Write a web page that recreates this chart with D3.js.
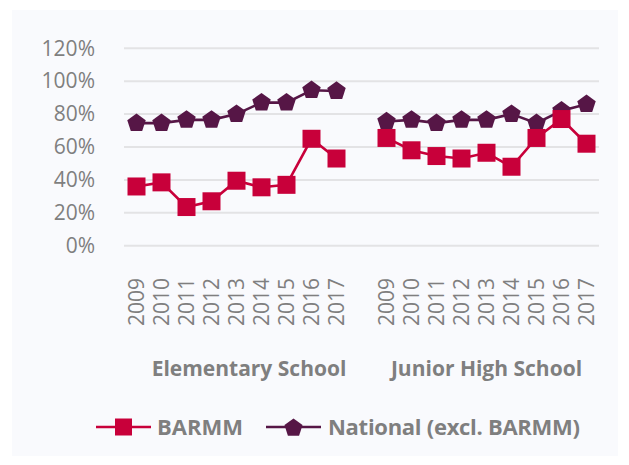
<!DOCTYPE html>
<html>
<head>
<meta charset="utf-8">
<script src="https://cdn.jsdelivr.net/npm/d3@7"></script>
<style>
  body { margin: 0; background: #ffffff; }
  text { font-family: "Open Sans", sans-serif; }
</style>
</head>
<body>
<div id="chart"></div>
<script>
// chart size
var width = 629;
var height = 465;

// data
var years = ["2009", "2010", "2011", "2012", "2013", "2014", "2015", "2016", "2017"];
var groups = ["Elementary School", "Junior High School"];
var barmmElem = [36, 38.5, 23.5, 27, 39.5, 35.5, 37, 65, 53];
var barmmJhs = [65.5, 58, 54.5, 53, 56.5, 48, 65.5, 77, 62];
var natElem = [74.5, 74.5, 76.5, 76.5, 80, 87, 87, 94.5, 94];
var natJhs = [75.5, 76.5, 74.5, 76.5, 76.5, 80, 74.5, 82, 86];
var yTicks = [0, 20, 40, 60, 80, 100, 120];

var colBarmm = "#c8003a";
var colNat = "#561646";
var grey = "#7f7f7f";

// categories: 9 years, a gap, 9 years
var cats = [];
years.forEach(function(y) { cats.push("E" + y); });
cats.push("gap");
years.forEach(function(y) { cats.push("J" + y); });

var svg = d3.select("#chart").append("svg")
  .attr("width", width)
  .attr("height", height);

svg.append("rect")
  .attr("x", 12).attr("y", 10)
  .attr("width", 606).attr("height", 446)
  .attr("fill", "#f9fafd");

var xScale = d3.scaleBand()
  .domain(cats)
  .range([124, 599]);

var yScale = d3.scaleLinear()
  .domain([0, 120])
  .range([245.7, 48.3]);

// gridlines
svg.append("g")
  .selectAll("line")
  .data(yTicks)
  .enter()
  .append("line")
  .attr("x1", 124).attr("x2", 599)
  .attr("y1", function(d) { return yScale(d); })
  .attr("y2", function(d) { return yScale(d); })
  .attr("stroke", "#e3e3e5")
  .attr("stroke-width", 2);

// y axis labels
var yAxis = d3.axisLeft(yScale)
  .tickValues(yTicks)
  .tickFormat(function(d) { return d + "%"; })
  .tickSize(0)
  .tickPadding(0);

var yg = svg.append("g")
  .attr("transform", "translate(95,0)")
  .call(yAxis);
yg.select(".domain").remove();
yg.selectAll("text")
  .attr("font-size", 21)
  .attr("fill", grey)
  .style("font-family", "'Open Sans', sans-serif");

// x axis year labels
var xAxis = d3.axisBottom(xScale)
  .tickValues(cats.filter(function(c) { return c != "gap"; }))
  .tickFormat(function(c) { return c.slice(1); })
  .tickSize(0);

var xg = svg.append("g")
  .attr("transform", "translate(0,278)")
  .call(xAxis);
xg.select(".domain").remove();
xg.selectAll("text")
  .attr("transform", "rotate(-90)")
  .attr("text-anchor", "end")
  .attr("x", 0)
  .attr("y", 0)
  .attr("dy", "0.36em")
  .attr("font-size", 21)
  .attr("fill", grey)
  .style("font-family", "'Open Sans', sans-serif");

// group labels
var groupCenters = [
  (xScale("E2009") + xScale("gap") + xScale.bandwidth()) / 2,
  (xScale("J2009") + xScale("J2017") + xScale.bandwidth()) / 2
];
svg.selectAll("text.group")
  .data(groups)
  .enter()
  .append("text")
  .attr("class", "group")
  .attr("x", function(d, i) { return groupCenters[i]; })
  .attr("y", 376)
  .attr("text-anchor", "middle")
  .attr("font-size", 21)
  .attr("font-weight", "bold")
  .attr("fill", grey)
  .text(function(d) { return d; });

function cx(prefix) {
  return function(d, i) { return xScale(prefix + years[i]) + xScale.bandwidth() / 2; };
}

var line = d3.line()
  .x(function(d) { return d[0]; })
  .y(function(d) { return d[1]; });

function pentPath(r) {
  var pts = [];
  for (var k = 0; k < 5; k++) {
    var a = -Math.PI / 2 + k * 2 * Math.PI / 5;
    pts.push([r * Math.cos(a), r * Math.sin(a)]);
  }
  return "M" + pts.join("L") + "Z";
}

var series = [
  { vals: natElem, prefix: "E", color: colNat, shape: "pent" },
  { vals: natJhs, prefix: "J", color: colNat, shape: "pent" },
  { vals: barmmElem, prefix: "E", color: colBarmm, shape: "square" },
  { vals: barmmJhs, prefix: "J", color: colBarmm, shape: "square" }
];

// draw national first, then barmm on top
series.forEach(function(s) {
  var pts = s.vals.map(function(v, i) {
    return [cx(s.prefix)(v, i), yScale(v)];
  });
  svg.append("path")
    .attr("d", line(pts))
    .attr("fill", "none")
    .attr("stroke", s.color)
    .attr("stroke-width", 2.6);
  var m = svg.append("g").selectAll("path")
    .data(pts)
    .enter()
    .append("path")
    .attr("transform", function(d) { return "translate(" + d[0] + "," + d[1] + ")"; })
    .attr("fill", s.color);
  if (s.shape == "pent") {
    m.attr("d", pentPath(9.7));
  } else {
    m.attr("d", "M-9,-9H9V9H-9Z");
  }
});

// legend
var leg = svg.append("g");
leg.append("line")
  .attr("x1", 96).attr("x2", 151).attr("y1", 427).attr("y2", 427)
  .attr("stroke", colBarmm).attr("stroke-width", 2.4);
leg.append("path")
  .attr("transform", "translate(123.5,427)")
  .attr("d", "M-8.5,-8.5H8.5V8.5H-8.5Z")
  .attr("fill", colBarmm);
leg.append("text")
  .attr("x", 157).attr("y", 427).attr("dy", "0.36em")
  .attr("font-size", 22).attr("font-weight", "bold").attr("fill", grey)
  .text("BARMM");

leg.append("line")
  .attr("x1", 266).attr("x2", 321).attr("y1", 427).attr("y2", 427)
  .attr("stroke", colNat).attr("stroke-width", 2.4);
leg.append("path")
  .attr("transform", "translate(293.5,428)")
  .attr("d", pentPath(9.5))
  .attr("fill", colNat);
leg.append("text")
  .attr("x", 328).attr("y", 427).attr("dy", "0.36em")
  .attr("font-size", 22).attr("font-weight", "bold").attr("fill", grey)
  .attr("textLength", 252)
  .text("National (excl. BARMM)");
</script>
</body>
</html>
